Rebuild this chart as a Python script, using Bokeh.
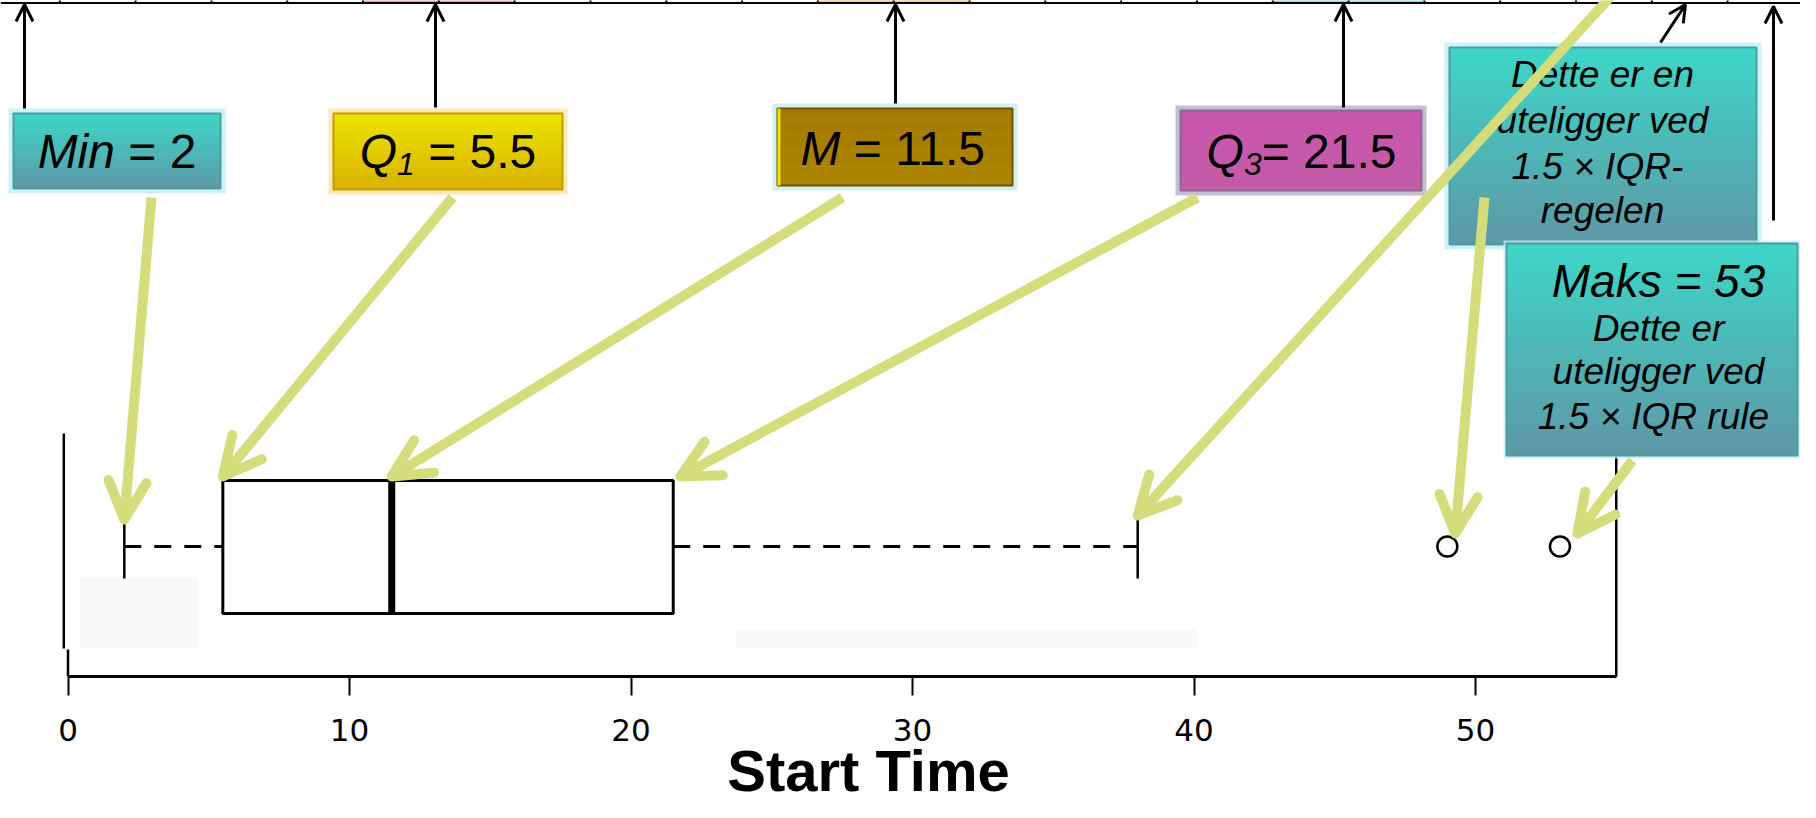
import numpy as np
from bokeh.plotting import figure
from bokeh.models import Range1d, FixedTicker, Arrow, OpenHead
from bokeh.core.properties import value
from bokeh.embed import file_html
from bokeh.resources import INLINE

# ---------------- data ----------------
axis_title = "Start Time"
tick_values = [0, 10, 20, 30, 40, 50]
axis_limits = [0, 55]
whisker_low = 2
q1 = 5.5
median = 11.5
q3 = 21.5
whisker_high = 38
outliers = [49, 53]

min_label = ["Min", " = 2"]
q1_label = ["Q", "1", " = 5.5"]
median_label = ["M", " = 11.5"]
q3_label = ["Q", "3", "= 21.5"]
outlier_note = ["Dette er en", "uteligger ved", "1.5  × IQR-", "regelen"]
max_title = "Maks = 53"
max_note = ["Dette er", "uteligger ved", "1.5  × IQR rule"]

# ---------------- layout (reference pixels, 1:1) ----------------
W, H = 1800, 802
X0, PPU = 67.5, 28.15          # screen x of value 0, pixels per unit
AXIS_Y = 676                   # screen y of the value axis
FONT = value("Liberation Sans")
BASE_FIX = 17.0                # empirical baseline correction


def u(X):
    return (np.asarray(X, dtype=float) - X0) / PPU


def fpx(s):
    return value(f"{s:.1f}px")


AW = {' ': 278, '=': 584, '.': 278, '-': 333, '×': 584, 'M': 833, 'i': 222, 'n': 556,
      'Q': 778, 'a': 556, 'k': 500, 's': 500}
for d in "0123456789":
    AW[d] = 556


def twidth(t, size):
    return sum(AW.get(c, 556) for c in t) / 1000.0 * size


p = figure(width=W, height=H, x_range=Range1d(float(u(0)), float(u(W))),
           y_range=Range1d(H, 0), output_backend="svg", toolbar_location=None,
           y_axis_location=None, min_border_left=0, min_border_right=0, min_border_top=0,
           min_border_bottom=0, background_fill_color="white", border_fill_color="white",
           outline_line_color=None)
p.grid.visible = False

ax = p.xaxis[0]
ax.fixed_location = AXIS_Y
ax.ticker = FixedTicker(ticks=tick_values)
ax.bounds = (axis_limits[0], axis_limits[1])
ax.axis_line_width = 3
ax.axis_line_color = "black"
ax.major_tick_out = 19
ax.major_tick_in = 0
ax.major_tick_line_width = 2
ax.minor_tick_out = 0
ax.minor_tick_in = 0
ax.major_label_text_font = "DejaVu Sans"
ax.major_label_text_font_size = "31px"
ax.major_label_text_color = "black"
ax.major_label_standoff = 23

# axis title, centred under the drawn part of the axis (kept inside the canvas)
p.text(x=[float(u(868))], y=[770], text=[axis_title], text_font=FONT,
       text_font_size=fpx(58), text_font_style=value("bold"), text_align=value("center"),
       text_baseline=value("alphabetic"), text_color="black")

# ---------------- faint background patches ----------------
p.quad(left=u([80, 735]), right=u([198, 1197]), top=[577, 629], bottom=[648, 648],
       fill_color="#f8f8f8", line_color=None)

# ---------------- top strip ----------------
div_x = 59.3 + 75.81 * np.arange(24)
cell_cols = {4: "#f4a2a4", 5: "#f4a2a4", 10: "#f6c488", 11: "#f6c488", 16: "#86e0da", 17: "#86e0da"}
ks = sorted(cell_cols)
p.quad(left=u(div_x[ks]), right=u(div_x[np.array(ks) + 1]), top=[-4] * len(ks), bottom=[2.5] * len(ks),
       fill_color=[cell_cols[k] for k in ks], line_color=None)
p.segment(x0=[float(u(0))], y0=[2.5], x1=[float(u(1804))], y1=[2.5], line_color="black", line_width=2)
p.segment(x0=u(div_x), y0=[-4] * 24, x1=u(div_x), y1=[3] * 24, line_color="black", line_width=2)

# ---------------- box plot ----------------
box_y, box_top, box_bot = 546, 480, 613
cap_top, cap_bot = 513, 578
p.segment(x0=[float(u(63.3))], y0=[433], x1=[float(u(63.3))], y1=[648], line_color="black", line_width=2.5)
p.segment(x0=[axis_limits[0], axis_limits[1]], y0=[649, 440], x1=[axis_limits[0], axis_limits[1]],
          y1=[AXIS_Y, AXIS_Y], line_color="black", line_width=2.5)
p.segment(x0=[whisker_low, q3], y0=[box_y, box_y], x1=[q1, whisker_high], y1=[box_y, box_y],
          line_color="black", line_width=3, line_dash="17 13")
p.segment(x0=[whisker_low, whisker_high], y0=[cap_top] * 2, x1=[whisker_low, whisker_high],
          y1=[cap_bot] * 2, line_color="black", line_width=2.5)
p.quad(left=[q1], right=[q3], top=[box_top], bottom=[box_bot], fill_color="white",
       line_color="black", line_width=3)
p.segment(x0=[median], y0=[box_top], x1=[median], y1=[box_bot], line_color="black", line_width=7)
p.scatter(x=outliers, y=[box_y] * len(outliers), marker="circle", size=20, fill_color="white",
          line_color="black", line_width=2.5)


# ---------------- label boxes ----------------
def hex2rgb(h):
    h = h.lstrip('#')
    return np.array([int(h[i:i + 2], 16) for i in (0, 2, 4)], dtype=float)


def label_box(x0, x1, y0, y1, top_col, bot_col, border, glow, pad=5):
    p.quad(left=[float(u(x0 - pad))], right=[float(u(x1 + pad))], top=[y0 - pad], bottom=[y1 + pad],
           fill_color=glow, fill_alpha=0.8, line_color=None)
    n = 24
    ys = np.linspace(y0, y1, n + 1)
    a, b = hex2rgb(top_col), hex2rgb(bot_col)
    cols = []
    for t in np.linspace(0, 1, n):
        c = a + (b - a) * t
        cols.append("#%02x%02x%02x" % tuple(int(round(v)) for v in c))
    p.quad(left=[float(u(x0))] * n, right=[float(u(x1))] * n, top=ys[:-1], bottom=ys[1:] + 0.5,
           fill_color=cols, line_color=None)
    p.quad(left=[float(u(x0))], right=[float(u(x1))], top=[y0], bottom=[y1], fill_color=None,
           line_color=border, line_width=2)


def parts_text(cx, base, parts):
    total = sum(twidth(t, s) for t, s, st, dy in parts)
    x = cx - total / 2
    for t, s, st, dy in parts:
        lead = len(t) - len(t.lstrip(' '))
        x += twidth(' ' * lead, s)
        core = t.lstrip(' ')
        p.text(x=[float(u(x))], y=[base + dy - BASE_FIX], text=[core], text_font=FONT,
               text_font_size=fpx(s), text_font_style=value(st), text_align=value("left"),
               text_baseline=value("alphabetic"), text_color="black")
        x += twidth(core, s)


def lines_text(cx, bases, lines, size, style="italic"):
    p.text(x=[float(u(cx))] * len(lines), y=[b - BASE_FIX for b in bases], text=lines,
           text_font=FONT, text_font_size=fpx(size), text_font_style=value(style),
           text_align=value("center"), text_baseline=value("alphabetic"), text_color="black")


TEAL = ("#3ed5c6", "#5d99a6", "#4a9c9e", "#c2eff8")
label_box(13, 220, 113, 188, TEAL[0], TEAL[1], TEAL[2], TEAL[3])
parts_text(116.5, 168, [(min_label[0], 48, "italic", 0), (min_label[1], 48, "normal", 0)])

label_box(333, 562, 113, 189, "#ebe300", "#d9b200", "#c39a00", "#fbe4a2")
parts_text(447.5, 168, [(q1_label[0], 48, "italic", 0), (q1_label[1], 32, "italic", 12),
                        (q1_label[2], 48, "normal", 0)])

label_box(777, 1012, 108, 185, "#a47a00", "#ac8500", "#6f5400", "#c8e8f4")
p.quad(left=[float(u(777))], right=[float(u(780))], top=[108], bottom=[185], fill_color="#f2e400",
       line_color=None)
parts_text(894, 165, [(median_label[0], 48, "italic", 0), (median_label[1], 48, "normal", 0)])

label_box(1180, 1421, 110, 190, "#c855ac", "#c35ba7", "#8a6890", "#b6acc6")
parts_text(1301, 168, [(q3_label[0], 48, "italic", 0), (q3_label[1], 32, "italic", 12),
                       (q3_label[2], 48, "normal", 0)])

label_box(1449, 1756, 47, 244, TEAL[0], TEAL[1], TEAL[2], TEAL[3])
lines_text(1602, [91, 137, 183, 227], outlier_note, 37)

label_box(1506, 1797, 243, 455, TEAL[0], TEAL[1], TEAL[2], TEAL[3], pad=3)
lines_text(1658, [297], [max_title], 46)
lines_text(1658, [345, 388, 433], max_note, 37)

# ---------------- black arrows ----------------
black_arrows = [(24, 108, 24, 4), (435, 107, 435, 4), (895, 103, 895, 4), (1343, 107, 1343, 4),
                (1773, 220, 1773, 6), (1660, 42, 1685, 4)]
for xs, ys, xe, ye in black_arrows:
    p.add_layout(Arrow(end=OpenHead(size=17, line_width=3, line_color="black"),
                       x_start=float(u(xs)), y_start=ys, x_end=float(u(xe)), y_end=ye,
                       line_width=3, line_color="black"))

# ---------------- yellow pointer arrows ----------------
YEL = "#d4dc7c"
yellow = [((151, 197), (whisker_low, cap_top + 6)),
          ((452, 197), (q1, box_top - 4)),
          ((842, 197), (median, box_top - 4)),
          ((1197, 197), (q3 + 0.25, box_top - 4)),
          ((1612, -6), (whisker_high, cap_top + 2)),
          ((1484, 197), (outliers[0] + 0.28, box_y - 13)),
          ((1632, 460), (outliers[1] + 0.62, box_y - 13))]
for (xs, ys), (xe, ye) in yellow:
    p.add_layout(Arrow(end=OpenHead(size=38, line_width=10, line_color=YEL, line_cap="round",
                                    line_join="round"),
                       x_start=float(u(xs)), y_start=ys, x_end=xe, y_end=ye,
                       line_width=10, line_color=YEL))

open("out.html", "w").write(file_html(p, INLINE))
